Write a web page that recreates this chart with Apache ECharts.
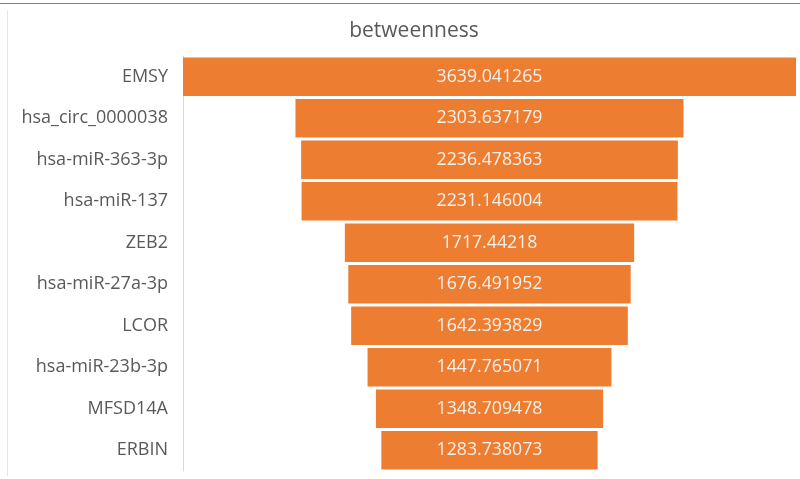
<!DOCTYPE html>
<html>
<head>
<meta charset="utf-8">
<script src="https://cdn.jsdelivr.net/npm/echarts@6/dist/echarts.min.js"></script>
<style>
  html, body { margin: 0; padding: 0; background: #ffffff; }
  #chart { width: 800px; height: 479px; }
</style>
</head>
<body>
<div id="chart"></div>
<script>
// Node names ranked by betweenness centrality
const categories = [
  'EMSY', 'hsa_circ_0000038', 'hsa-miR-363-3p', 'hsa-miR-137', 'ZEB2',
  'hsa-miR-27a-3p', 'LCOR', 'hsa-miR-23b-3p', 'MFSD14A', 'ERBIN'
];
// Betweenness values, as labelled on each bar
const betweenness = [
  3639.041265, 2303.637179, 2236.478363, 2231.146004, 1717.44218,
  1676.491952, 1642.393829, 1447.765071, 1348.709478, 1283.738073
];
const labels = [
  '3639.041265', '2303.637179', '2236.478363', '2231.146004', '1717.44218',
  '1676.491952', '1642.393829', '1447.765071', '1348.709478', '1283.738073'
];

const maxVal = Math.max(...betweenness);
// invisible left offset so each bar sits centred (funnel layout)
const offsets = betweenness.map(v => (maxVal - v) / 2);

const FONT = '"Open Sans", Lato, sans-serif';
const chart = echarts.init(document.getElementById('chart'), null, { renderer: 'canvas' });

chart.setOption({
  backgroundColor: '#ffffff',
  animation: false,
  title: {
    text: 'betweenness',
    left: 409,
    textAlign: 'center',
    top: 16,
    textStyle: { fontFamily: FONT, fontSize: 21, fontWeight: 'normal', color: '#595959' }
  },
  grid: { left: 183, right: 4, top: 56, bottom: 8, containLabel: false },
  xAxis: {
    type: 'value',
    min: 0,
    max: maxVal,
    show: false
  },
  yAxis: {
    type: 'category',
    data: categories,
    inverse: true,
    axisLine: { show: true, lineStyle: { color: '#d9d9d9', width: 1 } },
    axisTick: { show: false },
    axisLabel: { fontFamily: FONT, fontSize: 18, color: '#595959', margin: 15 }
  },
  series: [
    {
      type: 'bar',
      stack: 'funnel',
      data: offsets,
      itemStyle: { color: 'rgba(0,0,0,0)' },
      barCategoryGap: '7%',
      silent: true
    },
    {
      type: 'bar',
      stack: 'funnel',
      data: betweenness,
      barCategoryGap: '7%',
      itemStyle: { color: '#ED7D31' },
      label: {
        show: true,
        position: 'inside',
        fontFamily: FONT,
        fontSize: 17.7,
        color: '#f4f1ec',
        formatter: p => labels[p.dataIndex]
      }
    }
  ],
  graphic: [
    { type: 'line', shape: { x1: 0, y1: 3.5, x2: 800, y2: 3.5 }, style: { stroke: '#7f7f7f', lineWidth: 1 } },
    { type: 'line', shape: { x1: 7.5, y1: 10, x2: 7.5, y2: 476 }, style: { stroke: '#e6e6e6', lineWidth: 1 } }
  ]
});
</script>
</body>
</html>
